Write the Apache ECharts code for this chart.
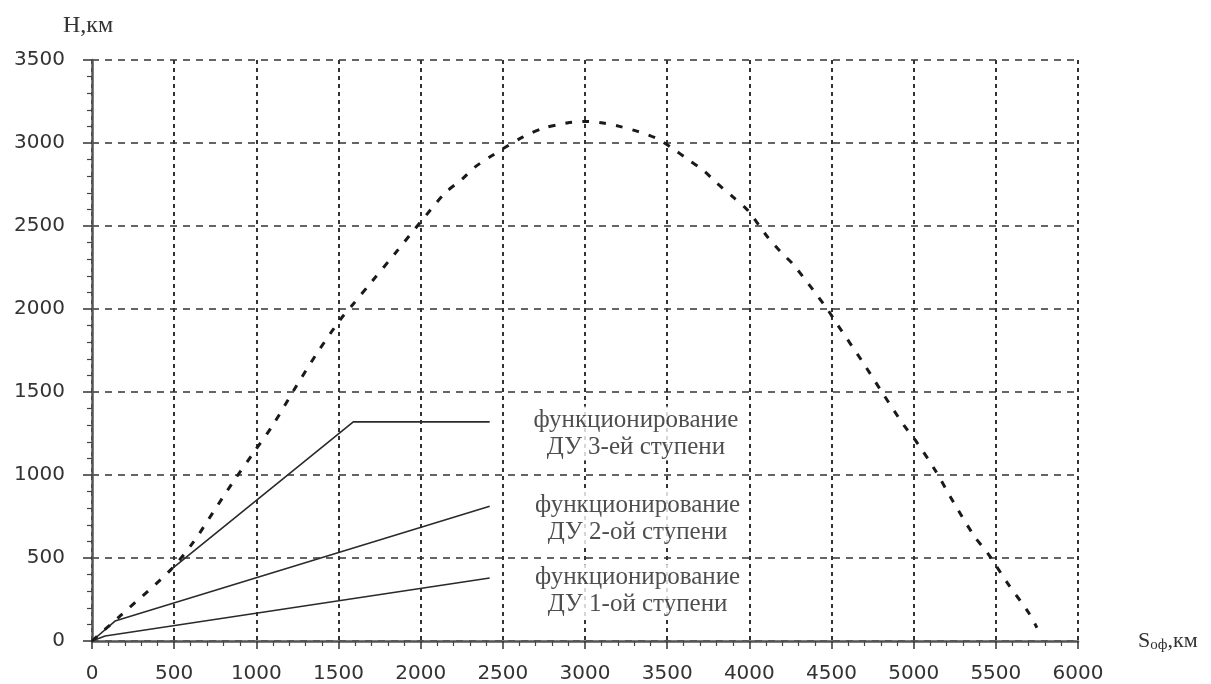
<!DOCTYPE html>
<html>
<head>
<meta charset="utf-8">
<script src="https://cdn.jsdelivr.net/npm/echarts@6/dist/echarts.min.js"></script>
<style>html,body{margin:0;padding:0;background:#fff}#c{width:1211px;height:684px}</style>
</head>
<body>
<div id="c"></div>
<script>
// Trajectory (dotted curve)
const trajS = [0,170,480,620,740,860,980,1100,1240,1370,1510,1590,1700,1850,2000,2150,2250,2330,2420,2500,2620,2750,2890,3000,3110,3210,3320,3430,3530,3620,3720,3800,3900,3990,4110,4190,4270,4470,4530,4690,4810,4940,5010,5130,5240,5370,5450,5570,5700,5750];
const trajH = [0,150,430,600,780,960,1130,1300,1530,1735,1935,2030,2162,2342,2525,2700,2780,2855,2915,2965,3035,3090,3120,3130,3120,3100,3070,3030,2970,2905,2835,2760,2675,2595,2435,2345,2265,2005,1915,1680,1495,1300,1210,1030,840,630,530,350,170,80];
// Stage lines (solid)
const stage3S = [480,1590,2420];
const stage3H = [430,1320,1320];
const stage2S = [0,140,2420];
const stage2H = [0,120,812];
const stage1S = [0,80,2420];
const stage1H = [0,30,380];
// Annotations
const noteS = [3310,3320,3320];
const noteH = [1250,735,300];
const noteText = ['функционирование\nДУ 3-ей ступени','функционирование\nДУ 2-ой ступени','функционирование\nДУ 1-ой ступени'];

const zip = (a,b) => a.map((v,i)=>[v,b[i]]);
const serif = '"Liberation Serif","Times New Roman",serif';
const sans = '"DejaVu Sans",sans-serif';

const chart = echarts.init(document.getElementById('c'), null, {renderer:'canvas'});
const lineStage = (d) => ({
  type:'line', data:d, symbol:'none', silent:true,
  lineStyle:{color:'#2a2a2a', width:1.6, type:'solid'}, z:3
});
chart.setOption({
  animation:false,
  backgroundColor:'#fff',
  grid:{left:92, right:133, top:60, bottom:43, containLabel:false},
  xAxis:{
    type:'value', min:0, max:6000, interval:500,
    name:'{s|S}{sub|оф}{s|,км}', nameLocation:'end', nameGap:60,
    nameTextStyle:{rich:{
      s:{fontFamily:serif, fontSize:22, color:'#333'},
      sub:{fontFamily:serif, fontSize:15, color:'#333', padding:[9,0,0,0]}
    }},
    axisLine:{show:true, onZero:false, lineStyle:{color:'#555', width:2.5}},
    axisTick:{show:true, length:8, lineStyle:{color:'#333', width:1.5}},
    minorTick:{show:true, splitNumber:5, length:5, lineStyle:{color:'#444', width:1.2}},
    axisLabel:{fontFamily:sans, fontSize:20, color:'#333', margin:23, formatter:(v)=>String(v)},
    splitLine:{show:true, lineStyle:{color:'#333', width:2, type:[4,4]}}
  },
  yAxis:{
    type:'value', min:0, max:3500, interval:500,
    name:'H,км', nameLocation:'end', nameGap:22,
    nameTextStyle:{fontFamily:serif, fontSize:24, color:'#333', align:'center', padding:[0,8,0,0]},
    axisLine:{show:true, onZero:false, lineStyle:{color:'#555', width:2.5}},
    axisTick:{show:true, length:9, lineStyle:{color:'#333', width:1.5}},
    minorTick:{show:true, splitNumber:5, length:5, lineStyle:{color:'#444', width:1.2}},
    axisLabel:{fontFamily:sans, fontSize:20, color:'#333', margin:27, formatter:(v)=>String(v)},
    splitLine:{show:true, lineStyle:{color:'#333', width:1.5, type:[7,6]}}
  },
  series:[
    {type:'line', data:zip(trajS,trajH), symbol:'none', smooth:0.3, silent:true,
     lineStyle:{color:'#1a1a1a', width:3, type:[7,10]}, z:4},
    lineStage(zip(stage3S,stage3H)),
    lineStage(zip(stage2S,stage2H)),
    lineStage(zip(stage1S,stage1H)),
    {type:'scatter', data:zip(noteS,noteH), symbolSize:0, silent:true, z:5,
     label:{show:true, position:'inside', formatter:(p)=>noteText[p.dataIndex],
       fontFamily:serif, fontSize:25, lineHeight:27, color:'#222', align:'center', verticalAlign:'middle',
       backgroundColor:'#fff', padding:[0,2]}}
  ]
});
</script>
</body>
</html>
